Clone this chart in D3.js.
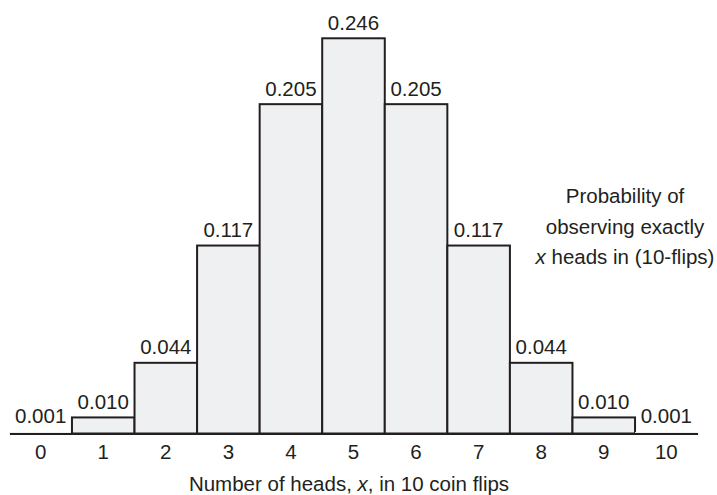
<!DOCTYPE html>
<html lang="en">
<head>
    <meta charset="UTF-8">
    <title>Binomial distribution, 10 coin flips</title>
    <script src="https://d3js.org/d3.v7.min.js"></script>
    <style>
        body {
            margin: 0;
            padding: 0;
            background: #ffffff;
        }
        svg text {
            font-family: "Liberation Sans", Arial, Helvetica, sans-serif;
            font-size: 20.5px;
            fill: #231f20;
        }
    </style>
</head>
<body>
<div id="chart"></div>
<script>
    // data: number of heads and probability of exactly that many in 10 flips
    var heads = [0, 1, 2, 3, 4, 5, 6, 7, 8, 9, 10];
    var probs = [0.001, 0.010, 0.044, 0.117, 0.205, 0.246, 0.205, 0.117, 0.044, 0.010, 0.001];
    var noteLines = ["Probability of", "observing exactly", "x heads in (10-flips)"];
    var xTitle = ["Number of heads, ", "x", ", in 10 coin flips"];

    var W = 717, H = 495;
    var baseY = 433.5;

    var svg = d3.select("#chart")
        .append("svg")
        .attr("width", W)
        .attr("height", H);

    var x = d3.scaleBand()
        .domain(heads)
        .range([9.4, 697.6])
        .padding(0);

    var y = d3.scaleLinear()
        .domain([0, 0.246])
        .range([baseY, 38.3]);

    // bars (the tiny ones just melt into the baseline)
    svg.append("g")
        .selectAll("rect")
        .data(probs)
        .enter()
        .append("rect")
        .attr("x", function (d, i) { return x(heads[i]); })
        .attr("y", function (d) { return y(d); })
        .attr("width", x.bandwidth())
        .attr("height", function (d) { return baseY - y(d); })
        .attr("fill", "#eff0f2")
        .attr("stroke", function (d) { return baseY - y(d) < 3 ? "none" : "#231f20"; })
        .attr("stroke-width", 2);

    // value labels
    var fmt = d3.format(".3f");
    svg.append("g")
        .selectAll("text")
        .data(probs)
        .enter()
        .append("text")
        .attr("x", function (d, i) { return x(heads[i]) + x.bandwidth() / 2; })
        .attr("y", function (d) { return y(d) - 8.5; })
        .attr("text-anchor", "middle")
        .text(function (d) { return fmt(d); });

    // x axis (baseline + tick numbers)
    var axis = svg.append("g")
        .attr("transform", "translate(0," + baseY + ")")
        .call(d3.axisBottom(x).tickSize(0).tickSizeOuter(0).tickPadding(11));
    axis.select(".domain")
        .attr("stroke", "#231f20")
        .attr("stroke-width", 2);
    axis.selectAll("text")
        .attr("fill", null);
    axis.attr("font-size", null).attr("font-family", null);

    // axis title
    var title = svg.append("text")
        .attr("x", 349)
        .attr("y", 491)
        .attr("text-anchor", "middle");
    xTitle.forEach(function (s, i) {
        title.append("tspan")
            .style("font-style", i === 1 ? "italic" : "normal")
            .text(s);
    });

    // annotation on the right
    var note = svg.append("text")
        .attr("text-anchor", "middle");
    noteLines.forEach(function (s, i) {
        var t = note.append("tspan")
            .attr("x", 625)
            .attr("y", 203 + i * 30.5);
        if (i === 2) {
            t.append("tspan").style("font-style", "italic").text(s.slice(0, 1));
            t.append("tspan").text(s.slice(1));
        } else {
            t.text(s);
        }
    });
</script>
</body>
</html>
